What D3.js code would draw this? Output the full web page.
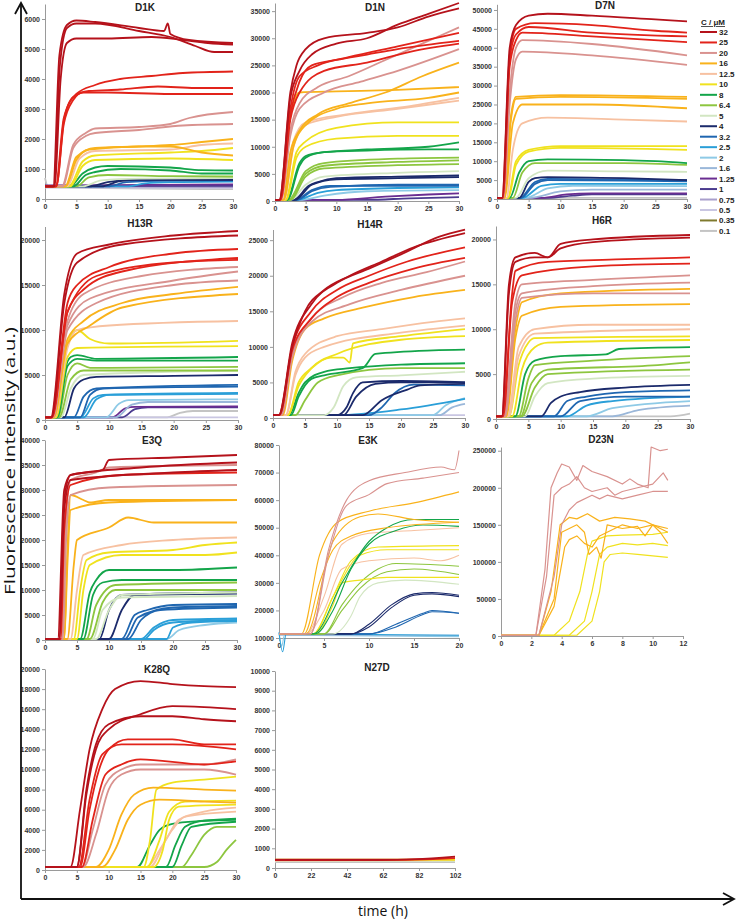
<!DOCTYPE html>
<html><head><meta charset="utf-8">
<script src="https://cdn.jsdelivr.net/npm/d3@7"></script>
<style>body{margin:0;background:#fff}</style>
</head><body>
<svg id="c" width="739" height="919"></svg>
<script>
// ---------- legend / concentrations ----------
const CONCS = ["32","25","20","16","12.5","10","8","6.4","5","4","3.2","2.5","2","1.6","1.25","1","0.75","0.5","0.35","0.1"];
const CONC_COLORS = ["#b5121b","#e2231a","#d9928f","#f9b21b","#f7c1a1","#f0e21e","#13a54a","#8dc63f","#d2e6c2","#1b2a6b","#1f66b0","#2a9fd8","#8ecae6","#9ab7d9","#6a2d91","#4b3b8f","#a99fcc","#c9c6e2","#7f7a2e","#c4c4c4"];

// ---------- tick labels ----------
const X30_TICKS = [0,5,10,15,20,25,30];
const X20_TICKS = [0,5,10,15,20];
const X12_TICKS = [0,2,4,6,8,10,12];
const N27D_X_TICKS = [2,22,42,62,82,102];
const N27D_X_LABELS = ["0","22","42","62","82","102"];
const D1K_Y_TICKS = [0,1000,2000,3000,4000,5000,6000];
const D1N_Y_TICKS = [0,5000,10000,15000,20000,25000,30000,35000];
const D7N_Y_TICKS = [0,5000,10000,15000,20000,25000,30000,35000,40000,45000,50000];
const H13R_Y_TICKS = [0,5000,10000,15000,20000];
const H14R_Y_TICKS = [0,5000,10000,15000,20000,25000];
const H6R_Y_TICKS = [0,5000,10000,15000,20000];
const E3Q_Y_TICKS = [0,5000,10000,15000,20000,25000,30000,35000,40000];
const E3K_Y_TICKS = [10000,20000,30000,40000,50000,60000,70000,80000];
const D23N_Y_TICKS = [0,50000,100000,150000,200000,250000];
const K28Q_Y_TICKS = [0,2000,4000,6000,8000,10000,12000,14000,16000,18000,20000];
const N27D_Y_TICKS = [0,1000,2000,3000,4000,5000,6000,7000,8000,9000,10000];

// ---------- series: [concentration, [t,F, t,F, ...]] ----------
const D1K = [
 ["0.1",[0,700,0.5,400,30,330]],
 ["0.5",[0,380,30,370]],
 ["0.75",[0,420,30,400]],
 ["1",[0,430,30,440]],
 ["1.25",[0,450,10,460,30,490]],
 ["2.5",[0,420,13,420,16,520,20,560,30,580]],
 ["3.2",[0,420,10,420,13,560,20,610,30,620]],
 ["4",[0,420,9,420,12,600,15,640,30,650]],
 ["4",[0,420,7,420,10,560,14,640,30,640]],
 ["5",[0,420,6,420,9,620,15,680,30,700]],
 ["6.4",[0,420,5,420,7,720,10,800,20,760,30,750]],
 ["8",[0,420,4.5,420,6.5,800,8,900,12,1000,20,950,25,850,30,850]],
 ["8",[0,420,4,420,6,850,8,1050,10,1100,20,1050,25,960,30,950]],
 ["10",[0,420,4,420,6,1100,8,1300,20,1350,30,1300]],
 ["10",[0,420,3.8,420,6,1250,8,1450,20,1550,25,1600,30,1700]],
 ["12.5",[0,420,3.5,420,5.5,1350,8,1600,20,1650,25,1800,30,1850]],
 ["16",[0,420,3.3,420,5,1300,7,1650,15,1750,20,1750,25,1550,30,1450]],
 ["16",[0,420,3.2,420,5,1400,8,1700,15,1750,20,1800,25,1900,30,2000]],
 ["20",[0,420,2.8,420,4.5,1700,6.5,2100,8,2200,15,2300,22,2450,30,2500]],
 ["20",[0,420,2.7,420,4.5,1800,6.5,2200,8,2350,15,2400,20,2500,23,2700,30,2900]],
 ["25",[0,420,1.8,420,3,2500,4.5,3300,6,3550,10,3550,20,3500,30,3500]],
 ["25",[0,420,1.8,420,3,2600,4.5,3400,7,3600,12,3650,18,3750,24,3700,30,3700]],
 ["25",[0,420,1.7,420,3,2700,5,3500,8,3800,12,4000,17,4100,22,4200,30,4250]],
 ["32",[0,420,1.5,420,2.5,4000,3.5,5200,5,5350,10,5350,17,5400,22,5300,26,5200,30,5150]],
 ["32",[0,420,1.4,420,2.4,4500,3.5,5700,5,5850,8,5850,15,5600,20,5400,24,5100,27,4900,30,4900]],
 ["32",[0,420,1.3,420,2.3,4800,3.5,5800,5,5950,8,5900,15,5700,19,5600,19.6,5850,20,5500,23,5300,30,5200]]
];
const D1N = [
 ["1",[0,200,15,200,22,500,30,700]],
 ["1.25",[0,200,10,200,18,800,25,1200,30,1400]],
 ["2",[0,200,4,200,8,1000,15,1800,30,2000]],
 ["2.5",[0,200,3.5,200,7,1500,10,2000,20,2400,30,2500]],
 ["3.2",[0,200,3.5,200,6,1800,9,2600,20,3000,30,3000]],
 ["3.2",[0,200,3.3,200,6,2000,9,2800,30,2800]],
 ["4",[0,200,3,200,5.5,2800,7,3500,10,4200,20,4500,30,4700]],
 ["4",[0,200,3.2,200,6,3000,10,4000,20,4200,30,4400]],
 ["5",[0,200,2.5,200,5,3000,8,4500,20,5200,30,5500]],
 ["6.4",[0,200,2.5,200,5,4500,8,6000,20,6600,30,6800]],
 ["6.4",[0,200,2.3,200,5,5000,8,6500,20,7200,30,7500]],
 ["6.4",[0,200,2.2,200,5,5500,8,7000,20,7800,30,8000]],
 ["8",[0,200,2,200,4,6500,5,8000,8,9000,15,9300,25,9500,30,9500]],
 ["8",[0,200,1.9,200,4,7000,5,8300,8,9000,15,9500,25,10000,30,10800]],
 ["10",[0,200,1.8,200,3.5,8000,5,10000,10,11500,20,12000,30,12000]],
 ["10",[0,200,1.7,200,3.5,9000,5,11000,10,13500,20,14500,30,14500]],
 ["12.5",[0,200,1.5,200,3,10000,5,14000,10,15500,20,17000,30,18500]],
 ["12.5",[0,200,1.4,200,3,11000,5,14500,12,16000,22,17500,30,19000]],
 ["16",[0,200,1.3,200,2.5,9000,4,13000,7,16000,12,18000,18,20000,24,23000,30,25500]],
 ["16",[0,200,1.4,200,3,10000,5,14000,10,17000,15,18000,25,19000,30,20000]],
 ["16",[0,200,1,200,2,12000,3,18000,4,20000,10,20200,20,20500,30,21000]],
 ["20",[0,200,1,200,2.5,12000,4,17000,8,20000,14,22000,20,24000,30,28000]],
 ["20",[0,200,0.9,200,2.5,13000,4,18000,7,21000,12,23000,18,26000,24,29000,30,32000]],
 ["25",[0,200,0.9,200,2.5,15000,4,20000,8,24000,15,25500,22,27500,30,29000]],
 ["25",[0,200,0.8,200,2.5,16000,4,22000,6,25000,10,26000,15,27000,20,28000,30,29500]],
 ["25",[0,200,0.8,200,2.5,17000,4,23000,7,25000,12,26500,20,28500,30,31000]],
 ["32",[0,200,0.7,200,2.5,19000,4,24000,6,27000,10,29000,15,30000,20,32500,25,34500,30,36500]],
 ["32",[0,200,0.7,200,2.5,20000,3.5,25000,5,28000,8,30000,15,31000,20,32000,25,34000,30,35500]]
];
const D7N = [
 ["0.1",[0,300,30,300]],
 ["1",[0,300,8,300,12,900,15,1200,30,1200]],
 ["1.25",[0,300,7,300,11,1200,15,1500,30,1500]],
 ["1.6",[0,300,5,300,10,2000,15,2500,30,2500]],
 ["2",[0,300,4.5,300,8,2800,12,3500,30,3400]],
 ["2.5",[0,300,4,300,7,3500,10,4000,30,4000]],
 ["3.2",[0,300,3.8,300,6,4000,8,5000,20,4900,30,4700]],
 ["3.2",[0,300,3.6,300,6,4500,8,5300,20,5100,30,5000]],
 ["4",[0,300,3.5,300,5,4500,6,5500,8,5800,20,5500,30,5000]],
 ["5",[0,300,3,300,5,5500,8,7500,20,7300,30,7200]],
 ["6.4",[0,300,2.5,300,4,7000,6,9500,20,9500,30,9000]],
 ["8",[0,300,2,300,3.5,7000,5,10000,8,10500,20,10300,25,10000,30,9500]],
 ["10",[0,300,1.8,300,3,9000,5,12500,10,13500,30,13000]],
 ["10",[0,300,1.7,300,3,10000,5,13000,10,14000,30,14000]],
 ["12.5",[0,300,1.5,300,2.5,13000,4,20000,8,21500,20,21000,30,20500]],
 ["16",[0,300,1.2,300,2.5,20000,4,25000,15,25000,30,24000]],
 ["16",[0,300,1.1,300,2.2,22000,3,27000,10,27500,30,27000]],
 ["16",[0,300,1.1,300,2.2,21000,3,26500,10,27000,30,26500]],
 ["20",[0,300,1,300,2,25000,3,37000,4,39000,15,38000,30,35500]],
 ["20",[0,300,1,300,2,28000,3,40000,4,42000,15,41000,30,38000]],
 ["25",[0,300,0.9,300,2,35000,3,42000,4,44000,15,43000,30,41500]],
 ["25",[0,300,0.9,300,2,37000,3,43500,5,45500,15,44000,30,43000]],
 ["25",[0,300,0.8,300,2,38000,3,45000,6,46500,15,46000,25,44500,30,44000]],
 ["32",[0,300,0.8,300,2,40000,3,46000,5,48500,8,49000,15,48500,25,47500,30,47000]]
];
const H13R = [
 ["0.1",[0,300,19,300,21,800,23,1000,30,1000]],
 ["0.5",[0,300,30,300]],
 ["1",[0,300,12,300,14,1200,16,1400,30,1400]],
 ["1.25",[0,300,10.5,300,12.5,1300,14,1450,30,1500]],
 ["1.6",[0,300,11,300,13.5,1700,16,2000,30,2000]],
 ["2",[0,300,9.5,300,11.5,1800,13,2200,30,2300]],
 ["2.5",[0,300,6,300,8,2300,10,2800,30,2900]],
 ["2.5",[0,300,5.5,300,7.5,2400,9,2800,30,3000]],
 ["3.2",[0,300,5.5,300,7,2800,9,3500,30,3700]],
 ["3.2",[0,300,4.5,300,6,2600,8,3500,30,3900]],
 ["4",[0,300,3,300,4.5,3500,6,4500,8,4800,20,4900,30,5000]],
 ["5",[0,300,2.5,300,4,3500,6,5000,30,5500]],
 ["6.4",[0,300,2.2,300,4,4500,6,5500,30,5500]],
 ["6.4",[0,300,2,300,3.5,5000,5,6300,7,5800,30,5900]],
 ["8",[0,300,1.9,300,3.5,6000,5,6800,8,6600,30,6600]],
 ["8",[0,300,1.8,300,3.5,6500,4,7000,5,7200,8,6800,30,7000]],
 ["10",[0,300,1.7,300,3.5,7000,5,8000,30,8200]],
 ["10",[0,300,1.6,300,3.5,8500,5,10000,7,9000,10,8500,30,8800]],
 ["12.5",[0,300,1.5,300,3.5,8000,5,10000,10,10500,30,11000]],
 ["16",[0,300,1.4,300,3.5,8500,7,10500,12,12500,30,14000]],
 ["16",[0,300,1.3,300,3.5,9000,6,11000,12,13000,20,14000,30,14800]],
 ["20",[0,300,1.2,300,3.5,10000,8,13000,20,15000,30,15500]],
 ["20",[0,300,1.2,300,3.5,10500,7,13500,20,15500,30,16500]],
 ["20",[0,300,1.1,300,3.5,11000,6,14000,15,16000,30,17000]],
 ["25",[0,300,1.1,300,3.5,12000,8,16000,20,17500,30,17800]],
 ["25",[0,300,1,300,3.5,12000,6,14500,12,16500,30,18000]],
 ["25",[0,300,1,300,3.5,13000,5,15000,10,17000,20,18500,30,19000]],
 ["32",[0,300,1,300,3,13000,5,17500,12,19500,30,20500]],
 ["32",[0,300,0.9,300,3,14000,5,18500,10,19500,20,20500,30,21000]]
];
const H14R = [
 ["0.5",[0,400,30,400]],
 ["1.6",[0,400,26,400,28,1500,30,2000]],
 ["2",[0,400,25,400,27,1800,30,2800]],
 ["2.5",[0,400,10,400,20,1200,30,2700]],
 ["3.2",[0,400,15,400,17,1500,19,3500,22,4700,30,4600]],
 ["4",[0,400,14,400,17,2500,21,4000,23,4600,30,4800]],
 ["4",[0,400,11,400,13,3000,16,4800,20,5000,30,5000]],
 ["4",[0,400,10,400,11.5,1500,12.5,3500,14,5000,20,5200,30,5000]],
 ["5",[0,400,8,400,9.5,1500,11,4500,13,5700,20,6000,30,6500]],
 ["6.4",[0,400,3.5,400,5,2500,7,5000,10,6000,20,7000,30,7000]],
 ["8",[0,400,2.8,400,4,3000,6,5500,8,6000,14,7000,16,9000,25,9500,30,9600]],
 ["8",[0,400,2.5,400,4,3500,5,5000,8,6500,12,7000,20,7500,30,7700]],
 ["10",[0,400,2.3,400,4,4500,6,7000,10,9000,20,11000,30,11500]],
 ["10",[0,400,2.3,400,4,5000,6,7000,9,8500,11,8500,12,7800,12.5,10500,20,11500,30,12500]],
 ["12.5",[0,400,2,400,3.5,6000,5,8500,8,10000,20,12000,30,13000]],
 ["12.5",[0,400,2,400,3.5,6500,5,9000,10,11500,17,12500,25,13500,30,14000]],
 ["16",[0,400,1.5,400,3,8000,5,12500,8,14000,14,15500,22,17000,30,18000]],
 ["20",[0,400,1.3,400,3,8500,6,13500,12,16000,20,18000,30,20000]],
 ["20",[0,400,1.2,400,3,9000,6,14000,11,17000,17,19000,24,20500,30,22000]],
 ["25",[0,400,1,400,3,9500,6,14000,10,17000,15,19000,22,21000,30,22500]],
 ["25",[0,400,1,400,3,10000,6,15000,10,18000,15,20000,21,22000,30,24000]],
 ["32",[0,400,0.9,400,3,10000,5,15000,8,18000,12,20000,17,22000,22,24000,30,26000]],
 ["32",[0,400,0.9,400,3,10500,6,16000,10,19000,15,21000,20,23000,26,25500,30,26500]]
];
const H6R = [
 ["0.1",[0,300,27,300,30,600]],
 ["1.6",[0,300,18,300,22,1000,30,1500]],
 ["2",[0,300,14,300,18,1200,30,2000]],
 ["2.5",[0,300,11,300,14,1500,18,2000,30,2500]],
 ["3.2",[0,300,10,300,13,2000,20,2500,30,2500]],
 ["3.2",[0,300,9,300,11,2000,14,2500,20,3000,30,3200]],
 ["4",[0,300,7,300,8.5,1800,10,2500,13,3000,20,3500,30,3800]],
 ["5",[0,300,4.5,300,6,2500,8,4000,15,4500,30,4800]],
 ["6.4",[0,300,4,300,6,3500,8,5000,30,5500]],
 ["6.4",[0,300,3.8,300,5.5,4000,8,5500,25,6000,30,6300]],
 ["6.4",[0,300,3.5,300,5,4500,6,6000,15,6500,30,7000]],
 ["8",[0,300,3,300,4.5,5000,6,6500,10,7000,17,7200,19,7800,30,8000]],
 ["10",[0,300,2.5,300,4,5500,6,8000,8,8500,30,8800]],
 ["10",[0,300,2,300,3.5,6000,5,8500,6,9000,30,9200]],
 ["12.5",[0,300,2,300,3.5,7000,6,9500,30,10000]],
 ["12.5",[0,300,1.8,300,3.5,8000,6,10000,15,10500,30,10500]],
 ["16",[0,300,1.6,300,3,9000,4,11500,10,12500,30,12800]],
 ["16",[0,300,1.5,300,3,10000,4,13000,10,14000,30,14500]],
 ["20",[0,300,1.4,300,3,11000,4,13500,15,14000,30,14000]],
 ["20",[0,300,1.3,300,3,12000,4,14000,15,14800,30,15200]],
 ["20",[0,300,1.2,300,3,13000,4,15000,15,15500,30,16000]],
 ["25",[0,300,1.1,300,2.5,13000,4,16000,15,17000,30,17300]],
 ["25",[0,300,1,300,2.5,14000,3,16500,8,17500,20,17800,30,18000]],
 ["32",[0,300,0.9,300,2,14000,3,17500,6,18000,8,18000,10,19000,15,19700,30,20200]],
 ["32",[0,300,0.9,300,2,15000,3,18000,6,18500,8,18000,10,19500,15,20000,30,20500]]
];
const E3Q = [
 ["2",[0,200,19,200,21,2000,25,3000,30,3500]],
 ["2.5",[0,200,19,200,20,2500,23,3500,30,3800]],
 ["2.5",[0,200,15.5,200,17,2000,20,3500,30,4000]],
 ["2.5",[0,200,15,200,17,2500,20,4000,30,4300]],
 ["3.2",[0,200,13,200,15,4000,18,6000,30,6500]],
 ["3.2",[0,200,12.5,200,14.5,4500,20,6500,30,6800]],
 ["3.2",[0,200,12,200,14,5000,16,6000,20,7000,30,7200]],
 ["4",[0,200,10,200,12,6000,14,9000,30,9300]],
 ["4",[0,200,8.5,200,10,6000,12,9000,30,9500]],
 ["5",[0,200,8,200,10,6000,12,9000,30,9500]],
 ["5",[0,200,7.5,200,9,6000,12,8500,30,8800]],
 ["6.4",[0,200,7,200,9,7500,11,10000,30,10000]],
 ["6.4",[0,200,6.5,200,8,7000,11,11000,30,11500]],
 ["8",[0,200,6,200,7.5,9000,9,11500,12,12000,30,12000]],
 ["8",[0,200,5.5,200,7,9500,8,12000,10,14000,20,14000,30,14500]],
 ["10",[0,200,5,200,6,10000,7,15000,12,17000,25,17000,30,17500]],
 ["10",[0,200,4.5,200,5.5,10000,6.5,16000,10,17500,20,18000,25,19000,30,19500]],
 ["12.5",[0,200,4,200,5,10000,6,17000,12,19000,20,20000,30,20500]],
 ["16",[0,200,3.5,200,4.5,15000,5,20000,10,22500,13,24500,17,23500,30,23500]],
 ["16",[0,200,3,200,3.5,15000,4,26000,10,27500,30,28000]],
 ["16",[0,200,3,200,3.5,18000,4,29000,6,28000,7,27500,10,28000,30,28000]],
 ["20",[0,200,2.8,200,3.3,20000,4,29000,10,30500,30,31000]],
 ["20",[0,200,2.7,200,3.2,22000,4,32000,8,33500,10,34500,30,35000]],
 ["25",[0,200,2.5,200,3,22000,4,31000,12,33000,30,33500]],
 ["32",[0,200,2.3,200,3,26000,4,32000,20,33500,30,34000]],
 ["32",[0,200,2.2,200,3,28000,4,33000,15,34500,30,35500]],
 ["32",[0,200,2,200,3,30000,4,33000,9,34000,10,36000,20,36500,30,37000]]
];
const E3K = [
 ["2",[0,12000,0.3,7000,0.6,11000,20,10500]],
 ["1.6",[0,11000,20,11000]],
 ["2.5",[0,12000,0.4,5000,0.8,11500,20,11000]],
 ["3.2",[0,11500,10,11500,13,15000,16,19000,17,20000,20,19000]],
 ["3.2",[0,11500,10,11500,13,14000,16,18500,17,19500,20,19000]],
 ["4",[0,11500,8,11500,10,15000,12.5,22000,15,26000,17,26500,20,25500]],
 ["4",[0,11500,8,11500,10,14000,12.5,21000,15,25500,17,26000,20,25000]],
 ["5",[0,11500,6,11500,8,18000,9,25000,11,30000,14,31000,20,29500]],
 ["6.4",[0,11500,5,11500,7,20000,9,28000,12,34000,15,35000,20,33000]],
 ["6.4",[0,11500,5,11500,7,22000,9,30000,11,35000,13,37000,20,36000]],
 ["10",[0,11500,4,11500,6,22000,7,30000,9,31000,12,32000,20,32000]],
 ["10",[0,11500,3.8,11500,6,25000,9,40000,12,42000,20,42000]],
 ["10",[0,11500,3.8,11500,6,25000,8,38000,11,43000,20,43500]],
 ["12.5",[0,11500,3,11500,5,20000,7,35000,10,38000,15,39000,18,38000,20,40000]],
 ["12.5",[0,11500,3,11500,5,25000,7,44000,10,48000,15,49000,20,50000]],
 ["8",[0,11500,4,11500,6,20000,8,35000,10,44000,13,49000,16,51000,20,50500]],
 ["8",[0,11500,3.8,11500,7,30000,10,45000,12,50000,15,53000,20,53000]],
 ["16",[0,11500,2.8,11500,4.5,30000,6,42000,8,47000,12,50000,20,52000]],
 ["16",[0,11500,3,11500,6,45000,9,54000,11,55000,15,53000,20,52000]],
 ["16",[0,11500,2.5,11500,4.5,40000,6.5,52000,10,56000,15,59000,20,63000]],
 ["20",[0,11500,3.5,11500,5.5,40000,7.5,58000,10,62000,12,66000,16,68000,20,70000]],
 ["20",[0,11500,3.5,11500,5.5,42000,7.5,60000,10,67000,14,70000,18,72000,19.5,71000,20,78000]]
];
const D23N = [
 ["10",[0,1000,5,1000,6,20000,6.5,60000,6.8,100000,7.2,110000,8,112000,9,110000,10,108000,11,106000]],
 ["10",[0,1000,4.5,1000,5.5,20000,6,60000,6.5,110000,7,120000,8,125000,9,123000,10,125000,11,122000]],
 ["10",[0,1000,3.5,1000,4.5,20000,5.2,60000,5.7,110000,6,128000,7,135000,8,136000,10,137000,11,140000]],
 ["16",[0,1000,2.5,1000,3.5,40000,4.2,120000,4.5,130000,5,135000,5.5,125000,6,120000,6.5,135000,7,140000,8,150000,9,145000,10,150000,10.5,140000,11,125000]],
 ["16",[0,1000,2.5,1000,3.5,50000,4,140000,4.5,145000,5,150000,5.5,140000,5.8,110000,6.3,120000,6.6,105000,7,150000,8,145000,9,148000,9.5,135000,10,150000,11,145000]],
 ["16",[0,1000,2.5,1000,3.3,60000,3.9,150000,4.5,160000,5,158000,5.7,165000,6.5,155000,7.5,160000,8.5,158000,9.5,155000,10.5,145000,11,140000]],
 ["20",[0,1000,2.5,1000,3.5,80000,4,150000,4.5,170000,5,180000,6,190000,6.5,185000,7,190000,8,185000,9,190000,10,195000,11,195000]],
 ["20",[0,1000,2.3,1000,3,80000,3.5,190000,4,200000,4.5,205000,5,215000,5.5,200000,6,195000,7,200000,7.5,190000,8,195000,9,200000,10,205000,10.7,220000,11,210000]],
 ["20",[0,1000,2.3,1000,2.9,90000,3.3,200000,3.7,220000,4,232000,4.5,228000,5,210000,5.4,230000,6,222000,7,215000,8,205000,8.5,212000,9,205000,9.7,200000,9.9,255000,10.5,250000,11,252000]]
];
const K28Q = [
 ["6.4",[0,300,25,300,27,800,28.5,2000,30,3000]],
 ["6.4",[0,300,21.5,300,23,1500,25,3500,27,4300,30,4300]],
 ["8",[0,300,20,300,21.5,2500,23,4300,30,4800]],
 ["8",[0,300,19,300,20.5,2500,22,4300,25,4900,30,5000]],
 ["8",[0,300,14.5,300,16.5,2500,18,4000,20,4600,25,4900,30,5100]],
 ["12.5",[0,300,16.5,300,19,3000,21,5000,25,5800,30,6200]],
 ["12.5",[0,300,16,300,18,2000,20,4000,22,5300,30,5800]],
 ["10",[0,300,17,300,18.5,2000,19.5,5000,21,6300,30,6500]],
 ["10",[0,300,16,300,18,3000,19.5,5800,22,6800,30,6900]],
 ["10",[0,300,15.5,300,16.5,3000,17.5,8000,20,8700,25,9000,30,9300]],
 ["16",[0,300,9,300,11,2000,13,5000,15,6500,18,7000,25,6800,30,6700]],
 ["16",[0,300,8,300,10,2000,12,5500,14,7500,17,8200,25,8000,30,7900]],
 ["20",[0,300,6,300,8,3500,10,8000,12,9500,15,10000,25,10000,30,9500]],
 ["20",[0,300,5.8,300,7.5,4000,9.5,8500,12,10000,15,10500,25,10500,30,11000]],
 ["25",[0,300,5.8,300,7.5,5000,9.5,9500,12,10500,15,11000,25,10500,30,10800]],
 ["25",[0,300,5.5,300,7,6000,8.5,10000,10,12000,13,13000,20,13000,25,12500,30,12500]],
 ["25",[0,300,5.3,300,7,7000,9,11500,12,12500,20,12500,30,12000]],
 ["32",[0,300,5,300,6.5,8000,8,12500,10,14500,15,15300,20,15300,25,15000,30,14800]],
 ["32",[0,300,5,300,6.5,7500,8,12000,10,14000,15,15500,20,16300,25,16200,30,16000]],
 ["32",[0,300,4,300,5.5,6000,7,12000,9,16000,11,18000,15,18800,20,18500,25,18300,30,18200]]
];
const N27D = [
 ["0.1",[2,300,102,300]],
 ["5",[2,360,102,360]],
 ["12.5",[2,380,102,400]],
 ["10",[2,420,102,420]],
 ["25",[2,400,60,400,90,450,102,500]],
 ["32",[2,420,60,420,80,450,102,580]]
];

// ---------- layout ----------
const panels = [
 {name:"D1K", data:D1K, xd:[0,30], xr:[45,233], yd:[0,6500], yr:[199,4], xt:X30_TICKS, yt:D1K_Y_TICKS, tx:145, ty:11},
 {name:"D1N", data:D1N, xd:[0,30], xr:[275,459], yd:[0,36500], yr:[201,3], xt:X30_TICKS, yt:D1N_Y_TICKS, tx:375, ty:11},
 {name:"D7N", data:D7N, xd:[0,30], xr:[497,687], yd:[0,51500], yr:[199,4.3], xt:X30_TICKS, yt:D7N_Y_TICKS, tx:605, ty:9},
 {name:"H13R", data:H13R, xd:[0,30], xr:[45,238], yd:[0,21500], yr:[420,226.5], xt:X30_TICKS, yt:H13R_Y_TICKS, tx:140, ty:227},
 {name:"H14R", data:H14R, xd:[0,30], xr:[273,465], yd:[0,26500], yr:[418,229.5], xt:X30_TICKS, yt:H14R_Y_TICKS, tx:370, ty:228},
 {name:"H6R", data:H6R, xd:[0,30], xr:[496,690], yd:[0,21500], yr:[419,226], xt:X30_TICKS, yt:H6R_Y_TICKS, tx:602, ty:224},
 {name:"E3Q", data:E3Q, xd:[0,30], xr:[45,237], yd:[0,40000], yr:[640,440], xt:X30_TICKS, yt:E3Q_Y_TICKS, tx:152, ty:444},
 {name:"E3K", data:E3K, xd:[0,20], xr:[279,459], yd:[10000,80000], yr:[638,445], xt:X20_TICKS, yt:E3K_Y_TICKS, tx:368, ty:444, sw:1.1},
 {name:"D23N", data:D23N, xd:[0,12], xr:[501,683], yd:[0,255000], yr:[636,447], xt:X12_TICKS, yt:D23N_Y_TICKS, tx:601, ty:443, sw:1.2, linear:true},
 {name:"K28Q", data:K28Q, xd:[0,30], xr:[45,236], yd:[0,20000], yr:[870,669], xt:X30_TICKS, yt:K28Q_Y_TICKS, tx:157, ty:673},
 {name:"N27D", data:N27D, xd:[2,102], xr:[275,455], yd:[0,10000], yr:[868,671], xt:N27D_X_TICKS, xl:N27D_X_LABELS, yt:N27D_Y_TICKS, tx:377, ty:671}
];

const svg = d3.select("#c");
const color = d3.scaleOrdinal().domain(CONCS).range(CONC_COLORS);
const FONT = "'Liberation Sans', Arial, sans-serif";
const pairs = a => d3.range(0, a.length, 2).map(i => [a[i], a[i+1]]);

function styleAxis(g){
  g.select(".domain").attr("stroke","#9a9a9a").attr("stroke-width",1);
  g.selectAll(".tick line").attr("stroke","#9a9a9a");
  g.selectAll(".tick text").attr("fill","#333").attr("font-size",7).attr("font-weight","bold").attr("font-family",FONT);
}

panels.forEach(p => {
  const x = d3.scaleLinear().domain(p.xd).range(p.xr);
  const y = d3.scaleLinear().domain(p.yd).range(p.yr);
  const g = svg.append("g");
  const xa = d3.axisBottom(x).tickValues(p.xt).tickSize(3).tickSizeOuter(0).tickPadding(2)
     .tickFormat(p.xl ? ((d,i) => p.xl[i]) : d3.format("d"));
  g.append("g").attr("transform",`translate(0,${y(p.yd[0])})`).call(xa).call(styleAxis);
  const ya = d3.axisLeft(y).tickValues(p.yt).tickSize(3).tickSizeOuter(0).tickPadding(2).tickFormat(d3.format("d"));
  g.append("g").attr("transform",`translate(${p.xr[0]},0)`).call(ya).call(styleAxis);
  const line = d3.line().x(d => x(d[0])).y(d => y(d[1])).curve(p.linear ? d3.curveLinear : d3.curveMonotoneX);
  p.data.forEach(([c, a]) => {
    g.append("path").attr("d", line(pairs(a))).attr("fill","none")
      .attr("stroke", color(c)).attr("stroke-width", p.sw || 1.8).attr("stroke-linejoin","round");
  });
  g.append("text").attr("x",p.tx).attr("y",p.ty).attr("text-anchor","middle")
    .attr("font-family",FONT).attr("font-weight","bold").attr("font-size",10).attr("fill","#222").text(p.name);
});

// ---------- legend ----------
const lg = svg.append("g").attr("font-family",FONT).attr("font-weight","bold").attr("font-size",8).attr("fill","#222");
lg.append("text").attr("x",701).attr("y",25).attr("text-decoration","underline").text("C / μM");
CONCS.forEach((c,i) => {
  const yy = 32 + i*10.47;
  lg.append("line").attr("x1",700).attr("x2",717).attr("y1",yy).attr("y2",yy).attr("stroke",color(c)).attr("stroke-width",2);
  lg.append("text").attr("x",719).attr("y",yy+3).text(c);
});

// ---------- outer frame with arrows ----------
const fr = svg.append("g").attr("stroke","#111").attr("stroke-width",1.8).attr("fill","none");
fr.append("line").attr("x1",21).attr("y1",899).attr("x2",21).attr("y2",3);
fr.append("line").attr("x1",21).attr("y1",899).attr("x2",734).attr("y2",899);
fr.append("path").attr("d","M15,14 L21,3 L27,14");
fr.append("path").attr("d","M723,893 L734,899 L723,905");

svg.append("text").attr("transform","translate(15,461) rotate(-90)").attr("text-anchor","middle")
  .attr("font-family","'Open Sans', Arial, sans-serif").attr("font-size",15).attr("fill","#111")
  .attr("textLength",268).attr("lengthAdjust","spacingAndGlyphs").text("Fluorescence intensity (a.u.)");
svg.append("text").attr("x",383).attr("y",916).attr("text-anchor","middle")
  .attr("font-family","'Open Sans', Arial, sans-serif").attr("font-size",14).attr("fill","#111").text("time (h)");
</script>
</body></html>
